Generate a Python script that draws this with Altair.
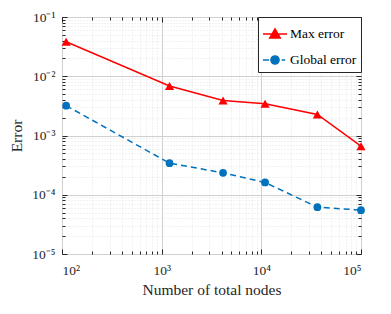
import altair as alt
import pandas as pd

# ---- data ----
nodes = [110, 1200, 4130, 10900, 36500, 100000]
max_error = [0.0383, 0.00686, 0.00389, 0.00343, 0.00227, 0.00066]
global_error = [0.00319, 0.000341, 0.000234, 0.000161, 6.18e-5, 5.5e-5]
series_names = ["Max error", "Global error"]
series_colors = ["#FF0000", "#0072BD"]

x_major = [100, 1000, 10000, 100000]
x_major_labels = ["10²", "10³", "10⁴", "10⁵"]
y_major = [1e-5, 1e-4, 1e-3, 1e-2, 1e-1]
y_major_labels = ["10⁻⁵", "10⁻⁴", "10⁻³", "10⁻²", "10⁻¹"]

FONT = "Liberation Serif"
W, H = 299, 237

df = pd.DataFrame(
    {
        "nodes": nodes * 2,
        "error": max_error + global_error,
        "series": [series_names[0]] * len(nodes) + [series_names[1]] * len(nodes),
    }
)

x_ticks = [m * 10**k for k in range(2, 5) for m in range(1, 10)] + [100000]
y_ticks = [round(m * 10.0**k, 12) for k in range(-5, -1) for m in range(1, 10)] + [0.1]


def label_expr(values, labels):
    expr = "''"
    for v, l in zip(values, labels):
        expr = f"abs(datum.value - {v!r}) < {v * 1e-6!r} ? '{l}' : ({expr})"
    return expr


is_major = "abs(log(datum.value)/LN10 - round(log(datum.value)/LN10)) < 0.001"

grid_common = dict(
    gridColor={"condition": {"test": is_major, "value": "#d0d0d0"}, "value": "#dedede"},
    gridDash={"condition": {"test": is_major, "value": []}, "value": [1, 2]},
    gridWidth={"condition": {"test": is_major, "value": 1}, "value": 0.8},
)

x_scale = alt.Scale(type="log", domain=[100, 100000], nice=False)
y_scale = alt.Scale(type="log", domain=[1e-5, 1e-1], nice=False)

x_axis = alt.Axis(
    values=x_ticks,
    labelExpr=label_expr(x_major, x_major_labels),
    title="Number of total nodes",
    grid=True,
    ticks=False,
    domain=False,
    labelPadding=9,
    titlePadding=6,
    **grid_common,
)
y_axis = alt.Axis(
    values=y_ticks,
    labelExpr=label_expr(y_major, y_major_labels),
    title="Error",
    grid=True,
    ticks=False,
    domain=False,
    labelPadding=7,
    titlePadding=7,
    **grid_common,
)

base = alt.Chart(df)
max_base = base.transform_filter(alt.datum.series == series_names[0])
glob_base = base.transform_filter(alt.datum.series == series_names[1])

line_max = max_base.mark_line(strokeWidth=1.5, color=series_colors[0]).encode(
    x=alt.X("nodes:Q", scale=x_scale, axis=x_axis),
    y=alt.Y("error:Q", scale=y_scale, axis=y_axis),
)
line_glob = glob_base.mark_line(
    strokeWidth=1.5, color=series_colors[1], strokeDash=[6, 4]
).encode(x="nodes:Q", y="error:Q")

tri = max_base.mark_point(
    shape="triangle-up", filled=True, size=85, opacity=1, color=series_colors[0]
).encode(x="nodes:Q", y="error:Q")
circ = glob_base.mark_point(
    shape="circle", filled=True, size=60, opacity=1, color=series_colors[1]
).encode(x="nodes:Q", y="error:Q")

# legend source: no rows survive the filter, the legend comes from the scale domains
legend_paths = [
    "M-1,0H1M0,-0.42L0.44,0.34L-0.44,0.34Z",
    "M-1,0H-0.5M0.55,0H0.85M0.34,0A0.34,0.34 0 1,1 -0.34,0A0.34,0.34 0 1,1 0.34,0Z",
]
leg = alt.Legend(
    title=None,
    orient="top-right",
    offset=0,
    symbolSize=576,
    symbolStrokeWidth=1.5,
    symbolOpacity=1,
    labelFont=FONT,
    labelFontSize=13.5,
    labelColor="#000000",
    labelOffset=2,
    rowPadding=5,
    padding=4,
    strokeColor="#262626",
    fillColor="white",
)
legend_layer = (
    base.transform_filter("false")
    .mark_point(size=576, filled=True, opacity=1)
    .encode(
        x="nodes:Q",
        y="error:Q",
        stroke=alt.Stroke("series:N", scale=alt.Scale(domain=series_names, range=series_colors), legend=leg),
        fill=alt.Fill("series:N", scale=alt.Scale(domain=series_names, range=series_colors), legend=leg),
        shape=alt.Shape(
            "series:N", scale=alt.Scale(domain=series_names, range=legend_paths), legend=leg
        ),
    )
)

main = alt.layer(line_max, line_glob, tri, circ, legend_layer)

tick_size = {"condition": {"test": is_major, "value": 5}, "value": 3}


def tick_axis(orient, offset, values):
    return alt.Axis(
        orient=orient,
        offset=offset,
        values=values,
        labels=False,
        title=None,
        grid=False,
        domain=False,
        ticks=True,
        tickColor="#262626",
        tickSize=tick_size,
    )


# inward ticks: axes of the opposite side shifted onto each edge of the box
ticks_bl = base.mark_point(opacity=0).encode(
    x=alt.X("nodes:Q", scale=x_scale, axis=tick_axis("top", -H, x_ticks)),
    y=alt.Y("error:Q", scale=y_scale, axis=tick_axis("right", -W, y_ticks)),
)
ticks_tr = base.mark_point(opacity=0).encode(
    x=alt.X("nodes:Q", scale=x_scale, axis=tick_axis("bottom", -H, x_ticks)),
    y=alt.Y("error:Q", scale=y_scale, axis=tick_axis("left", -W, y_ticks)),
)

chart = (
    alt.layer(main, ticks_bl, ticks_tr)
    .resolve_axis(x="independent", y="independent")
    .properties(
        width=W,
        height=H,
        autosize=alt.AutoSizeParams(type="none"),
        padding={"left": 54, "top": 9, "right": 22, "bottom": 52},
        background="white",
    )
    .configure_view(stroke="#262626", strokeWidth=1)
    .configure_axis(
        labelFont=FONT,
        labelFontSize=13.5,
        labelColor="#262626",
        titleFont=FONT,
        titleFontSize=15.5,
        titleFontWeight="normal",
        titleColor="#262626",
    )
    .configure_legend(labelFont=FONT, labelFontSize=13.5, labelColor="#000000")
)

chart.save("out.html", embed_options={"renderer": "svg", "actions": False})
